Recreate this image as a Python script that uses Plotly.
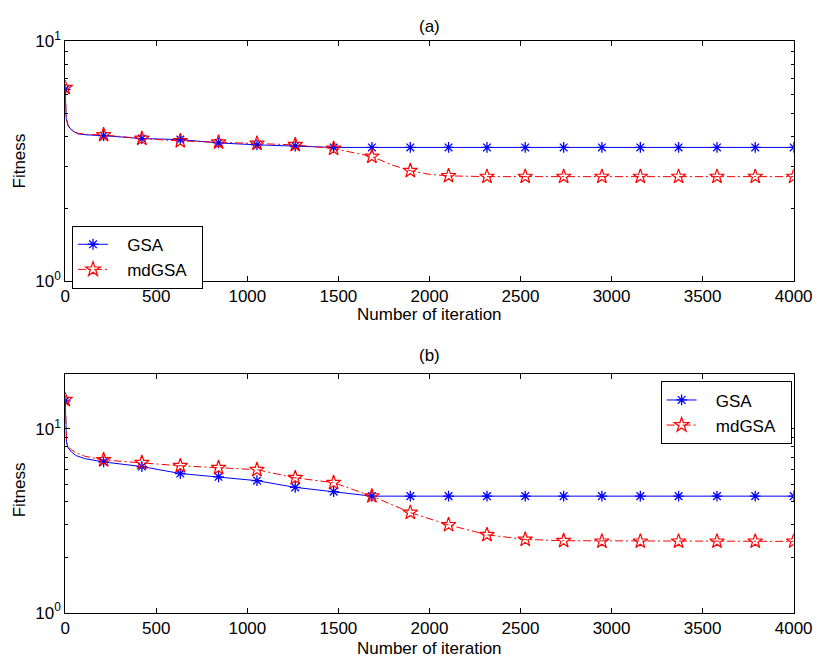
import plotly.graph_objects as go
from plotly.subplots import make_subplots

# ---------------- data ----------------
marker_iters = [0, 211, 421, 632, 842, 1053, 1263, 1474, 1684, 1895,
                2105, 2316, 2526, 2737, 2947, 3158, 3368, 3579, 3789, 4000]

# (a)
a_gsa_line_x = [0, 2, 5, 16, 40, 70, 120, 211, 421, 632, 842, 1053, 1263, 1474, 1684, 4000]
a_gsa_line_y = [6.29, 5.2, 4.76, 4.42, 4.22, 4.10, 4.06, 4.03, 3.92, 3.88, 3.76, 3.69, 3.65, 3.60, 3.60, 3.60]
a_md_line_x = [0, 2, 5, 16, 40, 70, 120, 211, 421, 632, 842, 1053, 1263, 1474, 1684, 1790, 1895, 2000, 2105, 2316, 4000]
a_md_line_y = [6.38, 5.3, 4.8, 4.45, 4.25, 4.12, 4.08, 4.06, 3.92, 3.83, 3.78, 3.74, 3.69, 3.56, 3.30, 3.05, 2.88, 2.78, 2.74, 2.72, 2.72]
a_gsa_marks = [6.29, 4.03, 3.92, 3.88, 3.76, 3.69, 3.65, 3.60, 3.60, 3.60,
               3.60, 3.60, 3.60, 3.60, 3.60, 3.60, 3.60, 3.60, 3.60, 3.60]
a_md_marks = [6.38, 4.06, 3.92, 3.83, 3.78, 3.74, 3.69, 3.56, 3.30, 2.88,
              2.74, 2.72, 2.72, 2.72, 2.72, 2.72, 2.72, 2.72, 2.72, 2.72]

# (b)
b_gsa_line_x = [0, 1, 3, 7, 15, 34, 60, 105, 211, 421, 632, 842, 1053, 1263, 1474, 1684, 4000]
b_gsa_line_y = [14.2, 12.0, 10.1, 8.44, 7.9, 7.48, 7.15, 6.89, 6.6, 6.23, 5.71, 5.48, 5.22, 4.80, 4.55, 4.30, 4.30]
b_md_line_x = [0, 1, 3, 7, 15, 34, 60, 105, 211, 421, 632, 842, 1053, 1263, 1474, 1684, 1895, 2105, 2316, 2526, 2737, 4000]
b_md_line_y = [14.4, 12.2, 10.3, 8.6, 8.0, 7.7, 7.4, 7.1, 6.77, 6.54, 6.29, 6.14, 5.99, 5.41, 5.09, 4.30, 3.50, 3.00, 2.65, 2.50, 2.46, 2.44]
b_gsa_marks = [14.2, 6.6, 6.23, 5.71, 5.48, 5.22, 4.80, 4.55, 4.30, 4.30,
               4.30, 4.30, 4.30, 4.30, 4.30, 4.30, 4.30, 4.30, 4.30, 4.30]
b_md_marks = [14.4, 6.77, 6.54, 6.29, 6.14, 5.99, 5.41, 5.09, 4.30, 3.50,
              3.00, 2.65, 2.50, 2.46, 2.44, 2.44, 2.44, 2.44, 2.44, 2.44]

series_names = ["GSA", "mdGSA"]
x_ticks = [0, 500, 1000, 1500, 2000, 2500, 3000, 3500, 4000]

# ---------------- styles ----------------
BLUE = "#0000ff"
RED = "#ff0000"
FONT = "Liberation Sans, Arial, sans-serif"
FS = 17
MDDASH = "8px,3px,2px,3px"
gsa_marker = dict(symbol="asterisk-open", size=9, color=BLUE, line=dict(color=BLUE, width=1.3))
md_marker = dict(symbol="star-open", size=11, color=RED, line=dict(color=RED, width=1.2))
PAD_L = "\u00a0\u00a0\u00a0"
PAD_R = "\u00a0\u00a0"

fig = make_subplots(rows=2, cols=1)

panels = [
    (1, "legend", a_gsa_line_x, a_gsa_line_y, a_md_line_x, a_md_line_y, a_gsa_marks, a_md_marks),
    (2, "legend2", b_gsa_line_x, b_gsa_line_y, b_md_line_x, b_md_line_y, b_gsa_marks, b_md_marks),
]
for row, leg, gx, gy, mx, my, gm, mm in panels:
    fig.add_trace(go.Scatter(x=gx, y=gy, mode="lines", line=dict(color=BLUE, width=1),
                             showlegend=False, hoverinfo="skip"), row=row, col=1)
    fig.add_trace(go.Scatter(x=mx, y=my, mode="lines", line=dict(color=RED, width=1, dash=MDDASH),
                             showlegend=False, hoverinfo="skip"), row=row, col=1)
    fig.add_trace(go.Scatter(x=marker_iters, y=gm, mode="markers", marker=gsa_marker,
                             showlegend=False), row=row, col=1)
    fig.add_trace(go.Scatter(x=marker_iters, y=mm, mode="markers", marker=md_marker,
                             showlegend=False), row=row, col=1)
    # legend entries
    fig.add_trace(go.Scatter(x=[None], y=[None], mode="lines+markers", name=PAD_L + series_names[0] + PAD_R,
                             line=dict(color=BLUE, width=1), marker=gsa_marker, legend=leg), row=row, col=1)
    fig.add_trace(go.Scatter(x=[None], y=[None], mode="lines+markers", name=PAD_L + series_names[1] + PAD_R,
                             line=dict(color=RED, width=1, dash=MDDASH), marker=md_marker, legend=leg), row=row, col=1)

W, H = 835, 668
def px(x):
    return x / W
def py(y):
    return 1 - y / H

axis_common = dict(showline=True, linecolor="black", linewidth=1, mirror="allticks",
                   ticks="inside", ticklen=5, tickcolor="black", showgrid=False, zeroline=False,
                   tickfont=dict(family=FONT, size=FS, color="black"))
minor_common = dict(tickvals=[2, 3, 4, 5, 6, 7, 8, 9], ticks="inside", ticklen=3,
                    tickcolor="black", showgrid=False)

legend_common = dict(xanchor="left", yanchor="top", bordercolor="black", borderwidth=1,
                     bgcolor="white", font=dict(family=FONT, size=FS, color="black"),
                     tracegroupgap=0)

fig.update_layout(
    width=W, height=H, margin=dict(l=0, r=0, t=0, b=0),
    paper_bgcolor="white", plot_bgcolor="white",
    font=dict(family=FONT, size=FS, color="black"),
    xaxis=dict(domain=[px(62), px(812)], range=[0, 4000], tickvals=x_ticks, **axis_common),
    xaxis2=dict(domain=[px(62), px(812)], range=[0, 4000], tickvals=x_ticks, **axis_common),
    yaxis=dict(domain=[py(278), py(30)], type="log", range=[0, 1],
               tickvals=[1, 10], ticktext=["10<sup>0</sup>", "10<sup>1</sup>"],
               minor=minor_common, **axis_common),
    yaxis2=dict(domain=[py(621), py(374)], type="log", range=[0, 1.3],
                tickvals=[1, 10], ticktext=["10<sup>0</sup>", "10<sup>1</sup>"],
                minor=minor_common, **axis_common),
    legend=dict(x=px(69), y=py(221), **legend_common),
    legend2=dict(x=px(675), y=py(382), **legend_common),
)

ann_font = dict(family=FONT, size=FS, color="black")
annotations = [
    dict(text="(a)", x=px(437), y=py(15)),
    dict(text="(b)", x=px(437), y=py(355)),
    dict(text="Number of iteration", x=px(437), y=py(313)),
    dict(text="Number of iteration", x=px(437), y=py(658)),
    dict(text="Fitness", x=px(15), y=py(154), textangle=-90),
    dict(text="Fitness", x=px(15), y=py(494), textangle=-90),
]
for a in annotations:
    fig.add_annotation(xref="paper", yref="paper", showarrow=False, xanchor="center", yanchor="middle",
                       font=ann_font, **a)

fig.write_html("out.html")
